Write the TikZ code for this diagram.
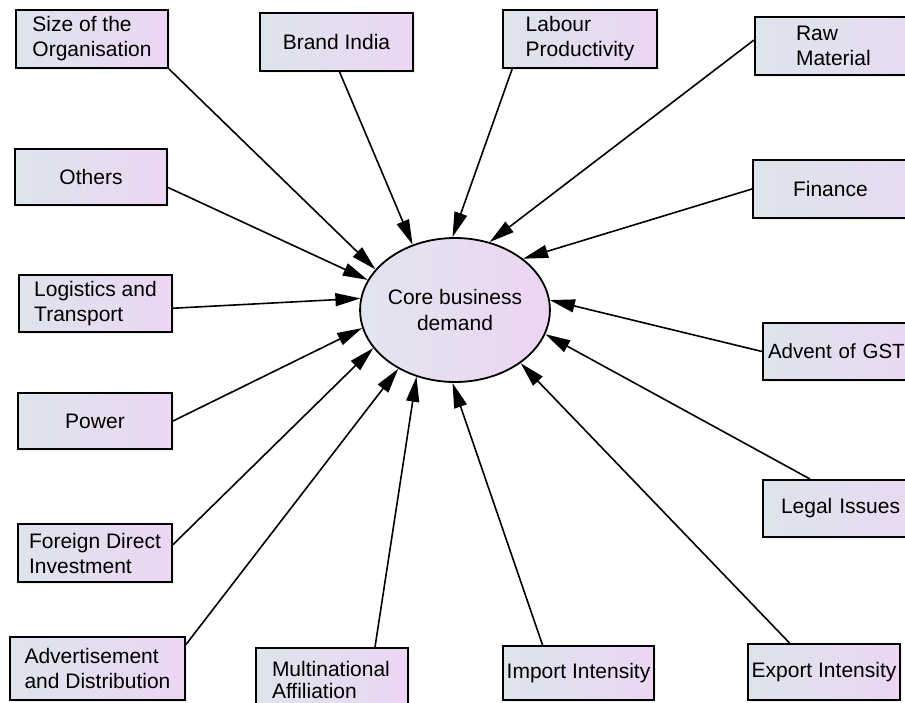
\documentclass[tikz,border=0pt]{standalone}
\usepackage{fontspec}
\setmainfont{Liberation Sans}
\usetikzlibrary{arrows.meta,calc,shadows,shapes.geometric}
\definecolor{boxL}{HTML}{DDE4EC}
\definecolor{boxR}{HTML}{ECD6F3}
\definecolor{ellL}{HTML}{E2E5F0}
\definecolor{ellR}{HTML}{EDD4F1}
\tikzset{
  base/.style={draw=black, line width=2pt, left color=boxL, right color=boxR,
    font=\fontsize{21}{25}\selectfont, inner sep=0pt,
    drop shadow={shadow xshift=2pt, shadow yshift=-2pt, opacity=0.12}},
  fbox/.style={base, rectangle, align=left},
  cutbox/.style={base, rectangle, anchor=west, align=left, text width=160pt},
  core/.style={draw=black, line width=1.8pt, ellipse, left color=ellL, right color=ellR,
    font=\fontsize{21}{26}\selectfont, align=center, minimum width=176pt, minimum height=144pt, inner sep=0pt},
  link/.style={line width=1.6pt, -{Triangle[length=25pt,width=13pt]}}
}
\begin{document}
\begin{tikzpicture}[x=1pt,y=-1pt]
\useasboundingbox (0,0) rectangle (905,702);
\clip (0,0) rectangle (905,702);
\fill[white] (0,0) rectangle (905,702);

\node[core] (c) at (455,310) {Core business\\demand};

\node[fbox, minimum width=152pt, minimum height=58pt] (size) at (92,39) {Size of the\\Organisation};
\node[fbox, minimum width=153pt, minimum height=58pt] (brand) at (336.5,42) {Brand India};
\node[fbox, minimum width=154pt, minimum height=58pt] (labour) at (580,39) {Labour\\Productivity};
\node[cutbox, minimum height=58pt, inner xsep=41pt] (raw) at (754,46) {Raw\\Material};

\node[fbox, minimum width=152pt, minimum height=56pt] (others) at (91,177) {Others};
\node[cutbox, minimum height=58pt, inner xsep=40pt] (finance) at (752,189) {Finance};

\node[fbox, minimum width=153pt, minimum height=57pt] (logistics) at (95.5,303.5) {Logistics and\\Transport};
\node[cutbox, minimum height=57pt, inner xsep=5pt, font=\fontsize{20.5}{25}\selectfont] (gst) at (762,351.5) {Advent of GST};

\node[fbox, minimum width=154pt, minimum height=56pt] (power) at (95,421) {Power};
\node[cutbox, minimum height=57pt, inner xsep=18pt] (legal) at (762,508.5) {Legal Issues};

\node[fbox, minimum width=154pt, minimum height=58pt] (fdi) at (95,553) {Foreign Direct\\Investment};

\node[fbox, minimum width=175pt, minimum height=63pt] (adv) at (97.5,668.5) {Advertisement\\and Distribution};
\node[fbox, anchor=north west, text width=120pt, inner xsep=16pt, inner ysep=1pt,
  minimum height=64pt, font=\fontsize{21}{22}\selectfont] (multi) at (255,647) {Multinational\\Affiliation};
\node[fbox, minimum width=151pt, minimum height=54pt] (import) at (578.5,673) {Import Intensity};
\node[fbox, minimum width=152pt, minimum height=56pt] (export) at (824,672) {Export Intensity};

\draw[link] (size.south east) -- (c.153);
\draw[link] ($(brand.south west)!0.52!(brand.south east)$) -- (c.123);
\draw[link] ($(labour.south west)!0.065!(labour.south east)$) -- (c.92);
\draw[link] ($(raw.north west)!0.4!(raw.south west)$) -- (c.63);
\draw[link] ($(others.north east)!0.68!(others.south east)$) -- (c.161);
\draw[link] ($(logistics.north east)!0.58!(logistics.south east)$) -- (c.173);
\draw[link] (finance.west) -- (c.37);
\draw[link] (gst.west) -- (c.6);
\draw[link] (power.east) -- (c.191);
\draw[link] ($(legal.north west)+(48,0)$) -- (c.-15);
\draw[link] ($(fdi.north east)!0.36!(fdi.south east)$) -- (c.205);
\draw[link] ($(adv.north east)!0.13!(adv.south east)$) -- (c.226);
\draw[link] ($(multi.north west)+(120,0)$) -- (c.240);
\draw[link] ($(import.north west)!0.265!(import.north east)$) -- (c.268);
\draw[link] ($(export.north west)!0.276!(export.north east)$) -- (c.321);
\end{tikzpicture}
\end{document}
